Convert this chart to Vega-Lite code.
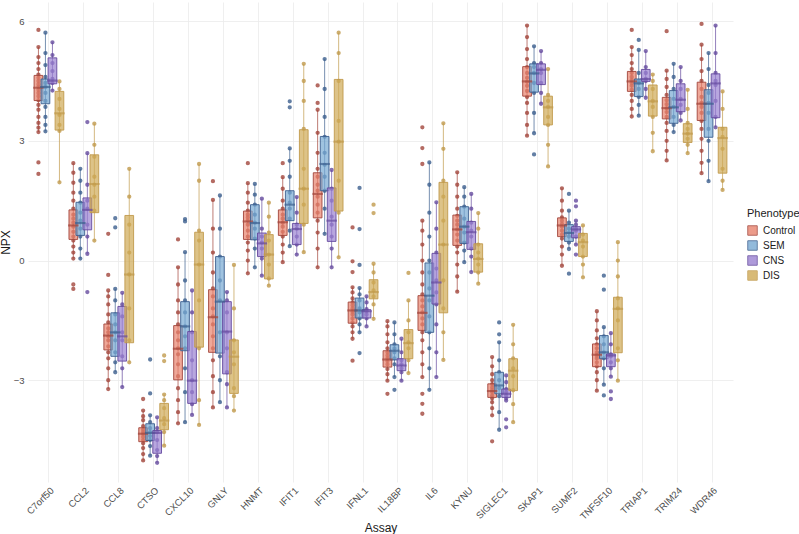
{
"$schema":"https://vega.github.io/schema/vega-lite/v6.json",
"width":705,"height":480,
"autosize":{"type":"none"},
"padding":{"left":28,"top":2,"right":66,"bottom":52},
"background":"white",
"config":{"font":"Liberation Sans","view":{"stroke":null},
"axis":{"grid":true,"gridColor":"#ebebeb","gridWidth":0.8,"domain":false,"ticks":false,"labelColor":"#4d4d4d","labelFontSize":9.5,"titleFontSize":12,"titleColor":"#1a1a1a","titleFontWeight":"normal"},
"legend":{"titleFontSize":11,"titleFontWeight":"normal","titleColor":"#1a1a1a","labelFontSize":10,"labelColor":"#1a1a1a","symbolType":"square","symbolSize":90,"symbolStrokeWidth":1,"rowPadding":0,"titlePadding":6,"labelOffset":5}},
"datasets":{
"box":[
{"a":"C7orf50","p":"Control","lo":3.22,"q1":4.01,"md":4.33,"q3":4.64,"hi":5.35},
{"a":"C7orf50","p":"SEM","lo":3.24,"q1":3.93,"md":4.35,"q3":4.55,"hi":5.71},
{"a":"C7orf50","p":"CNS","lo":4.26,"q1":4.43,"md":4.51,"q3":5.08,"hi":5.47},
{"a":"C7orf50","p":"DIS","lo":1.96,"q1":3.27,"md":3.69,"q3":4.24,"hi":4.49},
{"a":"CCL2","p":"Control","lo":0.05,"q1":0.53,"md":0.88,"q3":1.27,"hi":2.44},
{"a":"CCL2","p":"SEM","lo":0.05,"q1":0.63,"md":0.94,"q3":1.46,"hi":2.3},
{"a":"CCL2","p":"CNS","lo":0.17,"q1":0.77,"md":1.27,"q3":1.57,"hi":2.69},
{"a":"CCL2","p":"DIS","lo":0.5,"q1":1.2,"md":1.92,"q3":2.65,"hi":3.43},
{"a":"CCL8","p":"Control","lo":-3.22,"q1":-2.24,"md":-1.88,"q3":-1.59,"hi":-0.75},
{"a":"CCL8","p":"SEM","lo":-2.8,"q1":-2.4,"md":-1.8,"q3":-1.31,"hi":-0.71},
{"a":"CCL8","p":"CNS","lo":-3.17,"q1":-2.52,"md":-1.9,"q3":-1.15,"hi":-0.81},
{"a":"CCL8","p":"DIS","lo":-2.55,"q1":-2.06,"md":-0.35,"q3":1.13,"hi":2.3},
{"a":"CTSO","p":"Control","lo":-5.01,"q1":-4.54,"md":-4.34,"q3":-4.19,"hi":-3.76},
{"a":"CTSO","p":"SEM","lo":-4.89,"q1":-4.51,"md":-4.32,"q3":-4.09,"hi":-3.88},
{"a":"CTSO","p":"CNS","lo":-5.07,"q1":-4.83,"md":-4.32,"q3":-4.26,"hi":-3.93},
{"a":"CTSO","p":"DIS","lo":-4.64,"q1":-4.24,"md":-4.01,"q3":-3.58,"hi":-3.36},
{"a":"CXCL10","p":"Control","lo":-4.08,"q1":-2.99,"md":-2.21,"q3":-1.63,"hi":-0.17},
{"a":"CXCL10","p":"SEM","lo":-4.05,"q1":-2.26,"md":-1.65,"q3":-1.03,"hi":0.21},
{"a":"CXCL10","p":"CNS","lo":-3.87,"q1":-3.58,"md":-3.01,"q3":-1.78,"hi":-0.75},
{"a":"CXCL10","p":"DIS","lo":-4.12,"q1":-2.17,"md":-0.1,"q3":0.71,"hi":2.42},
{"a":"GNLY","p":"Control","lo":-3.68,"q1":-2.3,"md":-1.42,"q3":-0.73,"hi":1.52},
{"a":"GNLY","p":"SEM","lo":-3.55,"q1":-2.32,"md":-1.03,"q3":0.1,"hi":1.63},
{"a":"GNLY","p":"CNS","lo":-3.68,"q1":-2.84,"md":-1.78,"q3":-1.03,"hi":-0.79},
{"a":"GNLY","p":"DIS","lo":-3.76,"q1":-3.33,"md":-2.41,"q3":-1.99,"hi":-0.11},
{"a":"HNMT","p":"Control","lo":-0.32,"q1":0.53,"md":0.98,"q3":1.24,"hi":1.94},
{"a":"HNMT","p":"SEM","lo":-0.17,"q1":0.52,"md":0.94,"q3":1.4,"hi":1.92},
{"a":"HNMT","p":"CNS","lo":-0.38,"q1":0.1,"md":0.43,"q3":0.69,"hi":1.55},
{"a":"HNMT","p":"DIS","lo":-0.63,"q1":-0.46,"md":0.15,"q3":0.65,"hi":1.45},
{"a":"IFIT1","p":"Control","lo":-0.04,"q1":0.63,"md":0.96,"q3":1.27,"hi":2.09},
{"a":"IFIT1","p":"SEM","lo":0.36,"q1":1.0,"md":1.4,"q3":1.75,"hi":2.81},
{"a":"IFIT1","p":"CNS","lo":0.15,"q1":0.4,"md":0.79,"q3":0.93,"hi":1.59},
{"a":"IFIT1","p":"DIS","lo":0.21,"q1":0.93,"md":1.8,"q3":3.28,"hi":4.93},
{"a":"IFIT3","p":"Control","lo":-0.17,"q1":1.07,"md":1.67,"q3":2.2,"hi":3.78},
{"a":"IFIT3","p":"SEM","lo":0.67,"q1":1.75,"md":2.42,"q3":3.11,"hi":5.05},
{"a":"IFIT3","p":"CNS","lo":-0.17,"q1":0.48,"md":1.0,"q3":1.82,"hi":2.27},
{"a":"IFIT3","p":"DIS","lo":0.08,"q1":1.24,"md":2.98,"q3":4.54,"hi":5.71},
{"a":"IFNL1","p":"Control","lo":-1.96,"q1":-1.57,"md":-1.25,"q3":-1.04,"hi":-0.67},
{"a":"IFNL1","p":"SEM","lo":-1.8,"q1":-1.44,"md":-1.25,"q3":-0.94,"hi":-0.69},
{"a":"IFNL1","p":"CNS","lo":-1.65,"q1":-1.44,"md":-1.27,"q3":-1.23,"hi":-0.9},
{"a":"IFNL1","p":"DIS","lo":-1.46,"q1":-0.96,"md":-0.79,"q3":-0.48,"hi":-0.08},
{"a":"IL18BP","p":"Control","lo":-3.01,"q1":-2.67,"md":-2.48,"q3":-2.26,"hi":-1.52},
{"a":"IL18BP","p":"SEM","lo":-2.92,"q1":-2.49,"md":-2.26,"q3":-2.11,"hi":-1.55},
{"a":"IL18BP","p":"CNS","lo":-3.01,"q1":-2.76,"md":-2.63,"q3":-2.46,"hi":-1.96},
{"a":"IL18BP","p":"DIS","lo":-2.82,"q1":-2.46,"md":-2.07,"q3":-1.73,"hi":-1.0},
{"a":"IL6","p":"Control","lo":-2.92,"q1":-1.75,"md":-1.31,"q3":-0.88,"hi":1.0},
{"a":"IL6","p":"SEM","lo":-3.24,"q1":-1.8,"md":-0.88,"q3":-0.06,"hi":2.46},
{"a":"IL6","p":"CNS","lo":-2.92,"q1":-1.09,"md":-0.55,"q3":0.18,"hi":1.46},
{"a":"IL6","p":"DIS","lo":-2.49,"q1":-1.31,"md":0.4,"q3":1.96,"hi":3.44},
{"a":"KYNU","p":"Control","lo":-0.78,"q1":0.38,"md":0.78,"q3":1.14,"hi":2.21},
{"a":"KYNU","p":"SEM","lo":-0.04,"q1":0.43,"md":0.85,"q3":1.35,"hi":1.84},
{"a":"KYNU","p":"CNS","lo":-0.29,"q1":0.28,"md":0.71,"q3":0.98,"hi":1.67},
{"a":"KYNU","p":"DIS","lo":-0.58,"q1":-0.29,"md":0.04,"q3":0.42,"hi":1.19},
{"a":"SIGLEC1","p":"Control","lo":-3.88,"q1":-3.43,"md":-3.27,"q3":-3.09,"hi":-2.42},
{"a":"SIGLEC1","p":"SEM","lo":-4.24,"q1":-3.34,"md":-3.13,"q3":-2.8,"hi":-2.05},
{"a":"SIGLEC1","p":"CNS","lo":-3.51,"q1":-3.43,"md":-3.34,"q3":-3.22,"hi":-2.88},
{"a":"SIGLEC1","p":"DIS","lo":-4.05,"q1":-3.26,"md":-2.76,"q3":-2.46,"hi":-1.61},
{"a":"SKAP1","p":"Control","lo":3.13,"q1":4.12,"md":4.49,"q3":4.86,"hi":5.89},
{"a":"SKAP1","p":"SEM","lo":3.19,"q1":4.22,"md":4.69,"q3":4.93,"hi":5.37},
{"a":"SKAP1","p":"CNS","lo":3.93,"q1":4.41,"md":4.78,"q3":4.93,"hi":5.25},
{"a":"SKAP1","p":"DIS","lo":2.36,"q1":3.4,"md":3.84,"q3":4.12,"hi":4.8},
{"a":"SUMF2","p":"Control","lo":-0.13,"q1":0.6,"md":0.88,"q3":1.07,"hi":1.81},
{"a":"SUMF2","p":"SEM","lo":0.29,"q1":0.48,"md":0.69,"q3":0.9,"hi":1.25},
{"a":"SUMF2","p":"CNS","lo":0.4,"q1":0.57,"md":0.78,"q3":0.85,"hi":1.0},
{"a":"SUMF2","p":"DIS","lo":-0.42,"q1":0.1,"md":0.46,"q3":0.68,"hi":0.88},
{"a":"TNFSF10","p":"Control","lo":-3.26,"q1":-2.66,"md":-2.36,"q3":-2.09,"hi":-1.27},
{"a":"TNFSF10","p":"SEM","lo":-3.11,"q1":-2.46,"md":-2.3,"q3":-1.88,"hi":-1.67},
{"a":"TNFSF10","p":"CNS","lo":-2.91,"q1":-2.66,"md":-2.38,"q3":-2.34,"hi":-1.82},
{"a":"TNFSF10","p":"DIS","lo":-3.01,"q1":-2.31,"md":-1.21,"q3":-0.92,"hi":0.46},
{"a":"TRIAP1","p":"Control","lo":3.61,"q1":4.24,"md":4.49,"q3":4.74,"hi":5.35},
{"a":"TRIAP1","p":"SEM","lo":3.63,"q1":4.11,"md":4.44,"q3":4.55,"hi":5.28},
{"a":"TRIAP1","p":"CNS","lo":4.08,"q1":4.49,"md":4.55,"q3":4.79,"hi":5.25},
{"a":"TRIAP1","p":"DIS","lo":2.74,"q1":3.62,"md":3.99,"q3":4.4,"hi":4.66},
{"a":"TRIM24","p":"Control","lo":2.51,"q1":3.55,"md":3.82,"q3":4.09,"hi":4.76},
{"a":"TRIM24","p":"SEM","lo":3.22,"q1":3.44,"md":3.84,"q3":4.26,"hi":4.93},
{"a":"TRIM24","p":"CNS","lo":3.51,"q1":3.73,"md":4.03,"q3":4.43,"hi":4.85},
{"a":"TRIM24","p":"DIS","lo":2.69,"q1":2.96,"md":3.18,"q3":3.43,"hi":4.28},
{"a":"WDR46","p":"Control","lo":2.19,"q1":3.51,"md":3.93,"q3":4.47,"hi":5.41},
{"a":"WDR46","p":"SEM","lo":1.99,"q1":3.09,"md":3.93,"q3":4.28,"hi":5.2},
{"a":"WDR46","p":"CNS","lo":3.34,"q1":3.58,"md":4.44,"q3":4.68,"hi":5.89},
{"a":"WDR46","p":"DIS","lo":1.77,"q1":2.19,"md":3.07,"q3":3.34,"hi":4.24}
],
"pts":[
{"a":"C7orf50","p":"Control","v":3.22},{"a":"C7orf50","p":"Control","v":3.33},{"a":"C7orf50","p":"Control","v":3.45},{"a":"C7orf50","p":"Control","v":3.6},{"a":"C7orf50","p":"Control","v":3.78},{"a":"C7orf50","p":"Control","v":3.9},{"a":"C7orf50","p":"Control","v":4.02},{"a":"C7orf50","p":"Control","v":4.12},{"a":"C7orf50","p":"Control","v":4.2},{"a":"C7orf50","p":"Control","v":4.28},{"a":"C7orf50","p":"Control","v":4.35},{"a":"C7orf50","p":"Control","v":4.42},{"a":"C7orf50","p":"Control","v":4.5},{"a":"C7orf50","p":"Control","v":4.58},{"a":"C7orf50","p":"Control","v":4.66},{"a":"C7orf50","p":"Control","v":4.8},{"a":"C7orf50","p":"Control","v":4.95},{"a":"C7orf50","p":"Control","v":5.1},{"a":"C7orf50","p":"Control","v":5.35},{"a":"C7orf50","p":"Control","v":2.46},{"a":"C7orf50","p":"Control","v":2.17},{"a":"C7orf50","p":"Control","v":5.78},
{"a":"C7orf50","p":"SEM","v":3.24},{"a":"C7orf50","p":"SEM","v":3.4},{"a":"C7orf50","p":"SEM","v":3.6},{"a":"C7orf50","p":"SEM","v":3.85},{"a":"C7orf50","p":"SEM","v":4.0},{"a":"C7orf50","p":"SEM","v":4.2},{"a":"C7orf50","p":"SEM","v":4.35},{"a":"C7orf50","p":"SEM","v":4.45},{"a":"C7orf50","p":"SEM","v":4.6},{"a":"C7orf50","p":"SEM","v":4.9},{"a":"C7orf50","p":"SEM","v":5.2},{"a":"C7orf50","p":"SEM","v":5.71},
{"a":"C7orf50","p":"CNS","v":4.26},{"a":"C7orf50","p":"CNS","v":4.45},{"a":"C7orf50","p":"CNS","v":4.55},{"a":"C7orf50","p":"CNS","v":4.75},{"a":"C7orf50","p":"CNS","v":4.95},{"a":"C7orf50","p":"CNS","v":5.15},{"a":"C7orf50","p":"CNS","v":5.47},
{"a":"C7orf50","p":"DIS","v":1.96},{"a":"C7orf50","p":"DIS","v":3.25},{"a":"C7orf50","p":"DIS","v":3.4},{"a":"C7orf50","p":"DIS","v":3.65},{"a":"C7orf50","p":"DIS","v":3.8},{"a":"C7orf50","p":"DIS","v":4.05},{"a":"C7orf50","p":"DIS","v":4.3},{"a":"C7orf50","p":"DIS","v":4.49},
{"a":"CCL2","p":"Control","v":0.05},{"a":"CCL2","p":"Control","v":0.2},{"a":"CCL2","p":"Control","v":0.35},{"a":"CCL2","p":"Control","v":0.5},{"a":"CCL2","p":"Control","v":0.6},{"a":"CCL2","p":"Control","v":0.72},{"a":"CCL2","p":"Control","v":0.85},{"a":"CCL2","p":"Control","v":0.95},{"a":"CCL2","p":"Control","v":1.05},{"a":"CCL2","p":"Control","v":1.15},{"a":"CCL2","p":"Control","v":1.3},{"a":"CCL2","p":"Control","v":1.5},{"a":"CCL2","p":"Control","v":1.7},{"a":"CCL2","p":"Control","v":1.95},{"a":"CCL2","p":"Control","v":2.2},{"a":"CCL2","p":"Control","v":2.44},{"a":"CCL2","p":"Control","v":-0.6},{"a":"CCL2","p":"Control","v":-0.71},
{"a":"CCL2","p":"SEM","v":0.05},{"a":"CCL2","p":"SEM","v":0.3},{"a":"CCL2","p":"SEM","v":0.6},{"a":"CCL2","p":"SEM","v":0.8},{"a":"CCL2","p":"SEM","v":1.0},{"a":"CCL2","p":"SEM","v":1.2},{"a":"CCL2","p":"SEM","v":1.45},{"a":"CCL2","p":"SEM","v":1.7},{"a":"CCL2","p":"SEM","v":2.0},{"a":"CCL2","p":"SEM","v":2.3},
{"a":"CCL2","p":"CNS","v":0.17},{"a":"CCL2","p":"CNS","v":0.6},{"a":"CCL2","p":"CNS","v":0.9},{"a":"CCL2","p":"CNS","v":1.3},{"a":"CCL2","p":"CNS","v":1.5},{"a":"CCL2","p":"CNS","v":1.9},{"a":"CCL2","p":"CNS","v":2.69},{"a":"CCL2","p":"CNS","v":3.47},{"a":"CCL2","p":"CNS","v":-0.79},
{"a":"CCL2","p":"DIS","v":0.5},{"a":"CCL2","p":"DIS","v":1.25},{"a":"CCL2","p":"DIS","v":1.6},{"a":"CCL2","p":"DIS","v":1.9},{"a":"CCL2","p":"DIS","v":2.1},{"a":"CCL2","p":"DIS","v":2.6},{"a":"CCL2","p":"DIS","v":2.9},{"a":"CCL2","p":"DIS","v":3.43},
{"a":"CCL8","p":"Control","v":-3.22},{"a":"CCL8","p":"Control","v":-3.0},{"a":"CCL8","p":"Control","v":-2.7},{"a":"CCL8","p":"Control","v":-2.45},{"a":"CCL8","p":"Control","v":-2.3},{"a":"CCL8","p":"Control","v":-2.15},{"a":"CCL8","p":"Control","v":-2.0},{"a":"CCL8","p":"Control","v":-1.9},{"a":"CCL8","p":"Control","v":-1.8},{"a":"CCL8","p":"Control","v":-1.7},{"a":"CCL8","p":"Control","v":-1.55},{"a":"CCL8","p":"Control","v":-1.35},{"a":"CCL8","p":"Control","v":-1.1},{"a":"CCL8","p":"Control","v":-0.9},{"a":"CCL8","p":"Control","v":-0.75},{"a":"CCL8","p":"Control","v":-0.36},{"a":"CCL8","p":"Control","v":0.67},
{"a":"CCL8","p":"SEM","v":-2.8},{"a":"CCL8","p":"SEM","v":-2.55},{"a":"CCL8","p":"SEM","v":-2.3},{"a":"CCL8","p":"SEM","v":-2.0},{"a":"CCL8","p":"SEM","v":-1.8},{"a":"CCL8","p":"SEM","v":-1.6},{"a":"CCL8","p":"SEM","v":-1.35},{"a":"CCL8","p":"SEM","v":-1.0},{"a":"CCL8","p":"SEM","v":-0.71},{"a":"CCL8","p":"SEM","v":1.06},{"a":"CCL8","p":"SEM","v":0.83},
{"a":"CCL8","p":"CNS","v":-3.17},{"a":"CCL8","p":"CNS","v":-2.7},{"a":"CCL8","p":"CNS","v":-2.4},{"a":"CCL8","p":"CNS","v":-2.0},{"a":"CCL8","p":"CNS","v":-1.8},{"a":"CCL8","p":"CNS","v":-1.4},{"a":"CCL8","p":"CNS","v":-1.1},{"a":"CCL8","p":"CNS","v":-0.81},
{"a":"CCL8","p":"DIS","v":-2.55},{"a":"CCL8","p":"DIS","v":-2.0},{"a":"CCL8","p":"DIS","v":-1.2},{"a":"CCL8","p":"DIS","v":-0.35},{"a":"CCL8","p":"DIS","v":0.2},{"a":"CCL8","p":"DIS","v":0.9},{"a":"CCL8","p":"DIS","v":1.6},{"a":"CCL8","p":"DIS","v":2.3},
{"a":"CTSO","p":"Control","v":-5.01},{"a":"CTSO","p":"Control","v":-4.85},{"a":"CTSO","p":"Control","v":-4.7},{"a":"CTSO","p":"Control","v":-4.58},{"a":"CTSO","p":"Control","v":-4.5},{"a":"CTSO","p":"Control","v":-4.42},{"a":"CTSO","p":"Control","v":-4.35},{"a":"CTSO","p":"Control","v":-4.3},{"a":"CTSO","p":"Control","v":-4.24},{"a":"CTSO","p":"Control","v":-4.15},{"a":"CTSO","p":"Control","v":-4.0},{"a":"CTSO","p":"Control","v":-3.9},{"a":"CTSO","p":"Control","v":-3.76},{"a":"CTSO","p":"Control","v":-3.47},
{"a":"CTSO","p":"SEM","v":-4.89},{"a":"CTSO","p":"SEM","v":-4.65},{"a":"CTSO","p":"SEM","v":-4.5},{"a":"CTSO","p":"SEM","v":-4.4},{"a":"CTSO","p":"SEM","v":-4.3},{"a":"CTSO","p":"SEM","v":-4.2},{"a":"CTSO","p":"SEM","v":-4.05},{"a":"CTSO","p":"SEM","v":-3.88},{"a":"CTSO","p":"SEM","v":-3.33},{"a":"CTSO","p":"SEM","v":-2.48},
{"a":"CTSO","p":"CNS","v":-5.07},{"a":"CTSO","p":"CNS","v":-4.9},{"a":"CTSO","p":"CNS","v":-4.75},{"a":"CTSO","p":"CNS","v":-4.5},{"a":"CTSO","p":"CNS","v":-4.3},{"a":"CTSO","p":"CNS","v":-4.2},{"a":"CTSO","p":"CNS","v":-3.93},
{"a":"CTSO","p":"DIS","v":-4.64},{"a":"CTSO","p":"DIS","v":-4.3},{"a":"CTSO","p":"DIS","v":-4.1},{"a":"CTSO","p":"DIS","v":-3.95},{"a":"CTSO","p":"DIS","v":-3.7},{"a":"CTSO","p":"DIS","v":-3.5},{"a":"CTSO","p":"DIS","v":-3.36},{"a":"CTSO","p":"DIS","v":-2.38},{"a":"CTSO","p":"DIS","v":-2.52},
{"a":"CXCL10","p":"Control","v":-4.08},{"a":"CXCL10","p":"Control","v":-3.8},{"a":"CXCL10","p":"Control","v":-3.5},{"a":"CXCL10","p":"Control","v":-3.2},{"a":"CXCL10","p":"Control","v":-2.9},{"a":"CXCL10","p":"Control","v":-2.6},{"a":"CXCL10","p":"Control","v":-2.35},{"a":"CXCL10","p":"Control","v":-2.2},{"a":"CXCL10","p":"Control","v":-2.0},{"a":"CXCL10","p":"Control","v":-1.8},{"a":"CXCL10","p":"Control","v":-1.6},{"a":"CXCL10","p":"Control","v":-1.3},{"a":"CXCL10","p":"Control","v":-1.0},{"a":"CXCL10","p":"Control","v":-0.6},{"a":"CXCL10","p":"Control","v":-0.17},{"a":"CXCL10","p":"Control","v":0.53},
{"a":"CXCL10","p":"SEM","v":-4.05},{"a":"CXCL10","p":"SEM","v":-3.3},{"a":"CXCL10","p":"SEM","v":-2.7},{"a":"CXCL10","p":"SEM","v":-2.2},{"a":"CXCL10","p":"SEM","v":-1.9},{"a":"CXCL10","p":"SEM","v":-1.65},{"a":"CXCL10","p":"SEM","v":-1.3},{"a":"CXCL10","p":"SEM","v":-1.0},{"a":"CXCL10","p":"SEM","v":-0.5},{"a":"CXCL10","p":"SEM","v":0.21},{"a":"CXCL10","p":"SEM","v":1.04},{"a":"CXCL10","p":"SEM","v":0.98},
{"a":"CXCL10","p":"CNS","v":-3.87},{"a":"CXCL10","p":"CNS","v":-3.6},{"a":"CXCL10","p":"CNS","v":-3.3},{"a":"CXCL10","p":"CNS","v":-3.0},{"a":"CXCL10","p":"CNS","v":-2.5},{"a":"CXCL10","p":"CNS","v":-1.8},{"a":"CXCL10","p":"CNS","v":-1.3},{"a":"CXCL10","p":"CNS","v":-0.75},
{"a":"CXCL10","p":"DIS","v":-4.12},{"a":"CXCL10","p":"DIS","v":-3.5},{"a":"CXCL10","p":"DIS","v":-2.2},{"a":"CXCL10","p":"DIS","v":-1.0},{"a":"CXCL10","p":"DIS","v":-0.1},{"a":"CXCL10","p":"DIS","v":0.5},{"a":"CXCL10","p":"DIS","v":0.75},{"a":"CXCL10","p":"DIS","v":2.0},{"a":"CXCL10","p":"DIS","v":2.42},
{"a":"GNLY","p":"Control","v":-3.68},{"a":"GNLY","p":"Control","v":-3.3},{"a":"GNLY","p":"Control","v":-2.9},{"a":"GNLY","p":"Control","v":-2.5},{"a":"GNLY","p":"Control","v":-2.2},{"a":"GNLY","p":"Control","v":-1.9},{"a":"GNLY","p":"Control","v":-1.6},{"a":"GNLY","p":"Control","v":-1.4},{"a":"GNLY","p":"Control","v":-1.2},{"a":"GNLY","p":"Control","v":-0.9},{"a":"GNLY","p":"Control","v":-0.7},{"a":"GNLY","p":"Control","v":-0.3},{"a":"GNLY","p":"Control","v":0.2},{"a":"GNLY","p":"Control","v":0.8},{"a":"GNLY","p":"Control","v":1.52},{"a":"GNLY","p":"Control","v":1.99},
{"a":"GNLY","p":"SEM","v":-3.55},{"a":"GNLY","p":"SEM","v":-3.0},{"a":"GNLY","p":"SEM","v":-2.4},{"a":"GNLY","p":"SEM","v":-1.8},{"a":"GNLY","p":"SEM","v":-1.0},{"a":"GNLY","p":"SEM","v":-0.5},{"a":"GNLY","p":"SEM","v":0.1},{"a":"GNLY","p":"SEM","v":0.8},{"a":"GNLY","p":"SEM","v":1.63},
{"a":"GNLY","p":"CNS","v":-3.68},{"a":"GNLY","p":"CNS","v":-3.1},{"a":"GNLY","p":"CNS","v":-2.8},{"a":"GNLY","p":"CNS","v":-2.2},{"a":"GNLY","p":"CNS","v":-1.8},{"a":"GNLY","p":"CNS","v":-1.3},{"a":"GNLY","p":"CNS","v":-1.0},{"a":"GNLY","p":"CNS","v":-0.79},
{"a":"GNLY","p":"DIS","v":-3.76},{"a":"GNLY","p":"DIS","v":-3.4},{"a":"GNLY","p":"DIS","v":-3.2},{"a":"GNLY","p":"DIS","v":-2.6},{"a":"GNLY","p":"DIS","v":-2.3},{"a":"GNLY","p":"DIS","v":-2.0},{"a":"GNLY","p":"DIS","v":-1.2},{"a":"GNLY","p":"DIS","v":-0.11},
{"a":"HNMT","p":"Control","v":-0.32},{"a":"HNMT","p":"Control","v":0.0},{"a":"HNMT","p":"Control","v":0.25},{"a":"HNMT","p":"Control","v":0.45},{"a":"HNMT","p":"Control","v":0.6},{"a":"HNMT","p":"Control","v":0.75},{"a":"HNMT","p":"Control","v":0.9},{"a":"HNMT","p":"Control","v":1.0},{"a":"HNMT","p":"Control","v":1.08},{"a":"HNMT","p":"Control","v":1.15},{"a":"HNMT","p":"Control","v":1.25},{"a":"HNMT","p":"Control","v":1.45},{"a":"HNMT","p":"Control","v":1.7},{"a":"HNMT","p":"Control","v":1.94},{"a":"HNMT","p":"Control","v":2.44},
{"a":"HNMT","p":"SEM","v":-0.17},{"a":"HNMT","p":"SEM","v":0.3},{"a":"HNMT","p":"SEM","v":0.55},{"a":"HNMT","p":"SEM","v":0.8},{"a":"HNMT","p":"SEM","v":0.95},{"a":"HNMT","p":"SEM","v":1.15},{"a":"HNMT","p":"SEM","v":1.4},{"a":"HNMT","p":"SEM","v":1.65},{"a":"HNMT","p":"SEM","v":1.92},
{"a":"HNMT","p":"CNS","v":-0.38},{"a":"HNMT","p":"CNS","v":0.05},{"a":"HNMT","p":"CNS","v":0.3},{"a":"HNMT","p":"CNS","v":0.45},{"a":"HNMT","p":"CNS","v":0.6},{"a":"HNMT","p":"CNS","v":0.8},{"a":"HNMT","p":"CNS","v":1.55},
{"a":"HNMT","p":"DIS","v":-0.63},{"a":"HNMT","p":"DIS","v":-0.45},{"a":"HNMT","p":"DIS","v":-0.1},{"a":"HNMT","p":"DIS","v":0.15},{"a":"HNMT","p":"DIS","v":0.5},{"a":"HNMT","p":"DIS","v":0.7},{"a":"HNMT","p":"DIS","v":1.1},{"a":"HNMT","p":"DIS","v":1.45},
{"a":"IFIT1","p":"Control","v":-0.04},{"a":"IFIT1","p":"Control","v":0.2},{"a":"IFIT1","p":"Control","v":0.4},{"a":"IFIT1","p":"Control","v":0.6},{"a":"IFIT1","p":"Control","v":0.72},{"a":"IFIT1","p":"Control","v":0.85},{"a":"IFIT1","p":"Control","v":0.95},{"a":"IFIT1","p":"Control","v":1.05},{"a":"IFIT1","p":"Control","v":1.15},{"a":"IFIT1","p":"Control","v":1.3},{"a":"IFIT1","p":"Control","v":1.5},{"a":"IFIT1","p":"Control","v":1.8},{"a":"IFIT1","p":"Control","v":2.09},{"a":"IFIT1","p":"Control","v":2.44},
{"a":"IFIT1","p":"SEM","v":0.36},{"a":"IFIT1","p":"SEM","v":0.75},{"a":"IFIT1","p":"SEM","v":1.05},{"a":"IFIT1","p":"SEM","v":1.3},{"a":"IFIT1","p":"SEM","v":1.45},{"a":"IFIT1","p":"SEM","v":1.7},{"a":"IFIT1","p":"SEM","v":2.1},{"a":"IFIT1","p":"SEM","v":2.5},{"a":"IFIT1","p":"SEM","v":2.81},{"a":"IFIT1","p":"SEM","v":3.99},{"a":"IFIT1","p":"SEM","v":3.84},
{"a":"IFIT1","p":"CNS","v":0.15},{"a":"IFIT1","p":"CNS","v":0.4},{"a":"IFIT1","p":"CNS","v":0.6},{"a":"IFIT1","p":"CNS","v":0.8},{"a":"IFIT1","p":"CNS","v":0.9},{"a":"IFIT1","p":"CNS","v":1.2},{"a":"IFIT1","p":"CNS","v":1.59},
{"a":"IFIT1","p":"DIS","v":0.21},{"a":"IFIT1","p":"DIS","v":0.9},{"a":"IFIT1","p":"DIS","v":1.4},{"a":"IFIT1","p":"DIS","v":1.8},{"a":"IFIT1","p":"DIS","v":2.3},{"a":"IFIT1","p":"DIS","v":3.3},{"a":"IFIT1","p":"DIS","v":4.0},{"a":"IFIT1","p":"DIS","v":4.5},{"a":"IFIT1","p":"DIS","v":4.93},
{"a":"IFIT3","p":"Control","v":-0.17},{"a":"IFIT3","p":"Control","v":0.3},{"a":"IFIT3","p":"Control","v":0.7},{"a":"IFIT3","p":"Control","v":1.0},{"a":"IFIT3","p":"Control","v":1.2},{"a":"IFIT3","p":"Control","v":1.4},{"a":"IFIT3","p":"Control","v":1.6},{"a":"IFIT3","p":"Control","v":1.75},{"a":"IFIT3","p":"Control","v":1.9},{"a":"IFIT3","p":"Control","v":2.1},{"a":"IFIT3","p":"Control","v":2.3},{"a":"IFIT3","p":"Control","v":2.7},{"a":"IFIT3","p":"Control","v":3.2},{"a":"IFIT3","p":"Control","v":3.78},{"a":"IFIT3","p":"Control","v":3.95},{"a":"IFIT3","p":"Control","v":4.39},
{"a":"IFIT3","p":"SEM","v":0.67},{"a":"IFIT3","p":"SEM","v":1.3},{"a":"IFIT3","p":"SEM","v":1.75},{"a":"IFIT3","p":"SEM","v":2.1},{"a":"IFIT3","p":"SEM","v":2.4},{"a":"IFIT3","p":"SEM","v":2.7},{"a":"IFIT3","p":"SEM","v":3.1},{"a":"IFIT3","p":"SEM","v":3.6},{"a":"IFIT3","p":"SEM","v":4.3},{"a":"IFIT3","p":"SEM","v":5.05},
{"a":"IFIT3","p":"CNS","v":-0.17},{"a":"IFIT3","p":"CNS","v":0.3},{"a":"IFIT3","p":"CNS","v":0.6},{"a":"IFIT3","p":"CNS","v":0.9},{"a":"IFIT3","p":"CNS","v":1.1},{"a":"IFIT3","p":"CNS","v":1.5},{"a":"IFIT3","p":"CNS","v":1.8},{"a":"IFIT3","p":"CNS","v":2.27},
{"a":"IFIT3","p":"DIS","v":0.08},{"a":"IFIT3","p":"DIS","v":1.2},{"a":"IFIT3","p":"DIS","v":2.0},{"a":"IFIT3","p":"DIS","v":2.98},{"a":"IFIT3","p":"DIS","v":3.5},{"a":"IFIT3","p":"DIS","v":4.5},{"a":"IFIT3","p":"DIS","v":5.2},{"a":"IFIT3","p":"DIS","v":5.71},
{"a":"IFNL1","p":"Control","v":-1.96},{"a":"IFNL1","p":"Control","v":-1.8},{"a":"IFNL1","p":"Control","v":-1.65},{"a":"IFNL1","p":"Control","v":-1.55},{"a":"IFNL1","p":"Control","v":-1.45},{"a":"IFNL1","p":"Control","v":-1.35},{"a":"IFNL1","p":"Control","v":-1.28},{"a":"IFNL1","p":"Control","v":-1.2},{"a":"IFNL1","p":"Control","v":-1.12},{"a":"IFNL1","p":"Control","v":-1.05},{"a":"IFNL1","p":"Control","v":-0.95},{"a":"IFNL1","p":"Control","v":-0.8},{"a":"IFNL1","p":"Control","v":-0.67},{"a":"IFNL1","p":"Control","v":-0.02},{"a":"IFNL1","p":"Control","v":-0.29},{"a":"IFNL1","p":"Control","v":-2.51},{"a":"IFNL1","p":"Control","v":0.83},
{"a":"IFNL1","p":"SEM","v":-1.8},{"a":"IFNL1","p":"SEM","v":-1.6},{"a":"IFNL1","p":"SEM","v":-1.45},{"a":"IFNL1","p":"SEM","v":-1.3},{"a":"IFNL1","p":"SEM","v":-1.2},{"a":"IFNL1","p":"SEM","v":-1.0},{"a":"IFNL1","p":"SEM","v":-0.85},{"a":"IFNL1","p":"SEM","v":-0.69},{"a":"IFNL1","p":"SEM","v":-0.11},{"a":"IFNL1","p":"SEM","v":-2.32},{"a":"IFNL1","p":"SEM","v":1.82},{"a":"IFNL1","p":"SEM","v":0.79},
{"a":"IFNL1","p":"CNS","v":-1.65},{"a":"IFNL1","p":"CNS","v":-1.45},{"a":"IFNL1","p":"CNS","v":-1.35},{"a":"IFNL1","p":"CNS","v":-1.27},{"a":"IFNL1","p":"CNS","v":-1.22},{"a":"IFNL1","p":"CNS","v":-1.05},{"a":"IFNL1","p":"CNS","v":-0.9},
{"a":"IFNL1","p":"DIS","v":-1.46},{"a":"IFNL1","p":"DIS","v":-1.1},{"a":"IFNL1","p":"DIS","v":-0.9},{"a":"IFNL1","p":"DIS","v":-0.75},{"a":"IFNL1","p":"DIS","v":-0.55},{"a":"IFNL1","p":"DIS","v":-0.3},{"a":"IFNL1","p":"DIS","v":-0.08},{"a":"IFNL1","p":"DIS","v":1.4},{"a":"IFNL1","p":"DIS","v":1.19},
{"a":"IL18BP","p":"Control","v":-3.01},{"a":"IL18BP","p":"Control","v":-2.85},{"a":"IL18BP","p":"Control","v":-2.72},{"a":"IL18BP","p":"Control","v":-2.6},{"a":"IL18BP","p":"Control","v":-2.52},{"a":"IL18BP","p":"Control","v":-2.45},{"a":"IL18BP","p":"Control","v":-2.38},{"a":"IL18BP","p":"Control","v":-2.3},{"a":"IL18BP","p":"Control","v":-2.2},{"a":"IL18BP","p":"Control","v":-2.05},{"a":"IL18BP","p":"Control","v":-1.85},{"a":"IL18BP","p":"Control","v":-1.65},{"a":"IL18BP","p":"Control","v":-1.52},{"a":"IL18BP","p":"Control","v":-3.34},
{"a":"IL18BP","p":"SEM","v":-2.92},{"a":"IL18BP","p":"SEM","v":-2.6},{"a":"IL18BP","p":"SEM","v":-2.45},{"a":"IL18BP","p":"SEM","v":-2.3},{"a":"IL18BP","p":"SEM","v":-2.2},{"a":"IL18BP","p":"SEM","v":-2.1},{"a":"IL18BP","p":"SEM","v":-1.85},{"a":"IL18BP","p":"SEM","v":-1.55},{"a":"IL18BP","p":"SEM","v":-3.24},
{"a":"IL18BP","p":"CNS","v":-3.01},{"a":"IL18BP","p":"CNS","v":-2.8},{"a":"IL18BP","p":"CNS","v":-2.7},{"a":"IL18BP","p":"CNS","v":-2.6},{"a":"IL18BP","p":"CNS","v":-2.5},{"a":"IL18BP","p":"CNS","v":-2.3},{"a":"IL18BP","p":"CNS","v":-1.96},
{"a":"IL18BP","p":"DIS","v":-2.82},{"a":"IL18BP","p":"DIS","v":-2.5},{"a":"IL18BP","p":"DIS","v":-2.2},{"a":"IL18BP","p":"DIS","v":-2.05},{"a":"IL18BP","p":"DIS","v":-1.8},{"a":"IL18BP","p":"DIS","v":-1.5},{"a":"IL18BP","p":"DIS","v":-1.0},{"a":"IL18BP","p":"DIS","v":-0.31},
{"a":"IL6","p":"Control","v":-2.92},{"a":"IL6","p":"Control","v":-2.6},{"a":"IL6","p":"Control","v":-2.3},{"a":"IL6","p":"Control","v":-2.0},{"a":"IL6","p":"Control","v":-1.8},{"a":"IL6","p":"Control","v":-1.6},{"a":"IL6","p":"Control","v":-1.45},{"a":"IL6","p":"Control","v":-1.3},{"a":"IL6","p":"Control","v":-1.15},{"a":"IL6","p":"Control","v":-1.0},{"a":"IL6","p":"Control","v":-0.85},{"a":"IL6","p":"Control","v":-0.6},{"a":"IL6","p":"Control","v":-0.3},{"a":"IL6","p":"Control","v":0.0},{"a":"IL6","p":"Control","v":0.4},{"a":"IL6","p":"Control","v":0.75},{"a":"IL6","p":"Control","v":1.0},{"a":"IL6","p":"Control","v":2.42},{"a":"IL6","p":"Control","v":2.82},{"a":"IL6","p":"Control","v":3.34},{"a":"IL6","p":"Control","v":-3.34},{"a":"IL6","p":"Control","v":-3.59},{"a":"IL6","p":"Control","v":-3.84},
{"a":"IL6","p":"SEM","v":-3.24},{"a":"IL6","p":"SEM","v":-2.7},{"a":"IL6","p":"SEM","v":-2.2},{"a":"IL6","p":"SEM","v":-1.8},{"a":"IL6","p":"SEM","v":-1.4},{"a":"IL6","p":"SEM","v":-1.0},{"a":"IL6","p":"SEM","v":-0.7},{"a":"IL6","p":"SEM","v":-0.3},{"a":"IL6","p":"SEM","v":0.0},{"a":"IL6","p":"SEM","v":0.6},{"a":"IL6","p":"SEM","v":1.2},{"a":"IL6","p":"SEM","v":1.9},{"a":"IL6","p":"SEM","v":2.46},
{"a":"IL6","p":"CNS","v":-2.92},{"a":"IL6","p":"CNS","v":-2.3},{"a":"IL6","p":"CNS","v":-1.6},{"a":"IL6","p":"CNS","v":-1.1},{"a":"IL6","p":"CNS","v":-0.8},{"a":"IL6","p":"CNS","v":-0.5},{"a":"IL6","p":"CNS","v":-0.2},{"a":"IL6","p":"CNS","v":0.2},{"a":"IL6","p":"CNS","v":0.8},{"a":"IL6","p":"CNS","v":1.46},
{"a":"IL6","p":"DIS","v":-2.49},{"a":"IL6","p":"DIS","v":-1.8},{"a":"IL6","p":"DIS","v":-1.2},{"a":"IL6","p":"DIS","v":-0.5},{"a":"IL6","p":"DIS","v":0.4},{"a":"IL6","p":"DIS","v":1.0},{"a":"IL6","p":"DIS","v":1.6},{"a":"IL6","p":"DIS","v":2.0},{"a":"IL6","p":"DIS","v":2.8},{"a":"IL6","p":"DIS","v":3.44},
{"a":"KYNU","p":"Control","v":-0.78},{"a":"KYNU","p":"Control","v":-0.4},{"a":"KYNU","p":"Control","v":-0.1},{"a":"KYNU","p":"Control","v":0.2},{"a":"KYNU","p":"Control","v":0.35},{"a":"KYNU","p":"Control","v":0.5},{"a":"KYNU","p":"Control","v":0.65},{"a":"KYNU","p":"Control","v":0.78},{"a":"KYNU","p":"Control","v":0.9},{"a":"KYNU","p":"Control","v":1.0},{"a":"KYNU","p":"Control","v":1.12},{"a":"KYNU","p":"Control","v":1.3},{"a":"KYNU","p":"Control","v":1.6},{"a":"KYNU","p":"Control","v":1.9},{"a":"KYNU","p":"Control","v":2.21},
{"a":"KYNU","p":"SEM","v":-0.04},{"a":"KYNU","p":"SEM","v":0.25},{"a":"KYNU","p":"SEM","v":0.45},{"a":"KYNU","p":"SEM","v":0.7},{"a":"KYNU","p":"SEM","v":0.85},{"a":"KYNU","p":"SEM","v":1.05},{"a":"KYNU","p":"SEM","v":1.35},{"a":"KYNU","p":"SEM","v":1.6},{"a":"KYNU","p":"SEM","v":1.84},
{"a":"KYNU","p":"CNS","v":-0.29},{"a":"KYNU","p":"CNS","v":0.1},{"a":"KYNU","p":"CNS","v":0.3},{"a":"KYNU","p":"CNS","v":0.6},{"a":"KYNU","p":"CNS","v":0.75},{"a":"KYNU","p":"CNS","v":0.95},{"a":"KYNU","p":"CNS","v":1.3},{"a":"KYNU","p":"CNS","v":1.67},
{"a":"KYNU","p":"DIS","v":-0.58},{"a":"KYNU","p":"DIS","v":-0.3},{"a":"KYNU","p":"DIS","v":-0.1},{"a":"KYNU","p":"DIS","v":0.05},{"a":"KYNU","p":"DIS","v":0.2},{"a":"KYNU","p":"DIS","v":0.4},{"a":"KYNU","p":"DIS","v":0.8},{"a":"KYNU","p":"DIS","v":1.19},
{"a":"SIGLEC1","p":"Control","v":-3.88},{"a":"SIGLEC1","p":"Control","v":-3.7},{"a":"SIGLEC1","p":"Control","v":-3.55},{"a":"SIGLEC1","p":"Control","v":-3.45},{"a":"SIGLEC1","p":"Control","v":-3.38},{"a":"SIGLEC1","p":"Control","v":-3.3},{"a":"SIGLEC1","p":"Control","v":-3.25},{"a":"SIGLEC1","p":"Control","v":-3.18},{"a":"SIGLEC1","p":"Control","v":-3.1},{"a":"SIGLEC1","p":"Control","v":-3.0},{"a":"SIGLEC1","p":"Control","v":-2.85},{"a":"SIGLEC1","p":"Control","v":-2.65},{"a":"SIGLEC1","p":"Control","v":-2.42},{"a":"SIGLEC1","p":"Control","v":-4.53},
{"a":"SIGLEC1","p":"SEM","v":-4.24},{"a":"SIGLEC1","p":"SEM","v":-3.8},{"a":"SIGLEC1","p":"SEM","v":-3.4},{"a":"SIGLEC1","p":"SEM","v":-3.2},{"a":"SIGLEC1","p":"SEM","v":-3.0},{"a":"SIGLEC1","p":"SEM","v":-2.8},{"a":"SIGLEC1","p":"SEM","v":-2.5},{"a":"SIGLEC1","p":"SEM","v":-2.05},{"a":"SIGLEC1","p":"SEM","v":-1.55},{"a":"SIGLEC1","p":"SEM","v":-1.85},
{"a":"SIGLEC1","p":"CNS","v":-3.51},{"a":"SIGLEC1","p":"CNS","v":-3.45},{"a":"SIGLEC1","p":"CNS","v":-3.38},{"a":"SIGLEC1","p":"CNS","v":-3.3},{"a":"SIGLEC1","p":"CNS","v":-3.22},{"a":"SIGLEC1","p":"CNS","v":-3.05},{"a":"SIGLEC1","p":"CNS","v":-2.88},{"a":"SIGLEC1","p":"CNS","v":-3.98},{"a":"SIGLEC1","p":"CNS","v":-4.18},
{"a":"SIGLEC1","p":"DIS","v":-4.05},{"a":"SIGLEC1","p":"DIS","v":-3.6},{"a":"SIGLEC1","p":"DIS","v":-3.25},{"a":"SIGLEC1","p":"DIS","v":-2.9},{"a":"SIGLEC1","p":"DIS","v":-2.7},{"a":"SIGLEC1","p":"DIS","v":-2.45},{"a":"SIGLEC1","p":"DIS","v":-2.1},{"a":"SIGLEC1","p":"DIS","v":-1.61},
{"a":"SKAP1","p":"Control","v":3.13},{"a":"SKAP1","p":"Control","v":3.4},{"a":"SKAP1","p":"Control","v":3.7},{"a":"SKAP1","p":"Control","v":3.95},{"a":"SKAP1","p":"Control","v":4.1},{"a":"SKAP1","p":"Control","v":4.25},{"a":"SKAP1","p":"Control","v":4.38},{"a":"SKAP1","p":"Control","v":4.48},{"a":"SKAP1","p":"Control","v":4.58},{"a":"SKAP1","p":"Control","v":4.7},{"a":"SKAP1","p":"Control","v":4.85},{"a":"SKAP1","p":"Control","v":5.05},{"a":"SKAP1","p":"Control","v":5.3},{"a":"SKAP1","p":"Control","v":5.6},{"a":"SKAP1","p":"Control","v":5.89},
{"a":"SKAP1","p":"SEM","v":3.19},{"a":"SKAP1","p":"SEM","v":3.7},{"a":"SKAP1","p":"SEM","v":4.2},{"a":"SKAP1","p":"SEM","v":4.45},{"a":"SKAP1","p":"SEM","v":4.7},{"a":"SKAP1","p":"SEM","v":4.85},{"a":"SKAP1","p":"SEM","v":4.95},{"a":"SKAP1","p":"SEM","v":5.37},{"a":"SKAP1","p":"SEM","v":2.66},
{"a":"SKAP1","p":"CNS","v":3.93},{"a":"SKAP1","p":"CNS","v":4.2},{"a":"SKAP1","p":"CNS","v":4.45},{"a":"SKAP1","p":"CNS","v":4.7},{"a":"SKAP1","p":"CNS","v":4.8},{"a":"SKAP1","p":"CNS","v":4.95},{"a":"SKAP1","p":"CNS","v":5.25},
{"a":"SKAP1","p":"DIS","v":2.36},{"a":"SKAP1","p":"DIS","v":2.9},{"a":"SKAP1","p":"DIS","v":3.4},{"a":"SKAP1","p":"DIS","v":3.6},{"a":"SKAP1","p":"DIS","v":3.85},{"a":"SKAP1","p":"DIS","v":4.0},{"a":"SKAP1","p":"DIS","v":4.15},{"a":"SKAP1","p":"DIS","v":4.8},
{"a":"SUMF2","p":"Control","v":-0.13},{"a":"SUMF2","p":"Control","v":0.15},{"a":"SUMF2","p":"Control","v":0.35},{"a":"SUMF2","p":"Control","v":0.55},{"a":"SUMF2","p":"Control","v":0.65},{"a":"SUMF2","p":"Control","v":0.75},{"a":"SUMF2","p":"Control","v":0.85},{"a":"SUMF2","p":"Control","v":0.92},{"a":"SUMF2","p":"Control","v":1.0},{"a":"SUMF2","p":"Control","v":1.08},{"a":"SUMF2","p":"Control","v":1.25},{"a":"SUMF2","p":"Control","v":1.5},{"a":"SUMF2","p":"Control","v":1.81},
{"a":"SUMF2","p":"SEM","v":0.29},{"a":"SUMF2","p":"SEM","v":0.45},{"a":"SUMF2","p":"SEM","v":0.6},{"a":"SUMF2","p":"SEM","v":0.7},{"a":"SUMF2","p":"SEM","v":0.8},{"a":"SUMF2","p":"SEM","v":0.95},{"a":"SUMF2","p":"SEM","v":1.25},{"a":"SUMF2","p":"SEM","v":1.67},{"a":"SUMF2","p":"SEM","v":-0.33},
{"a":"SUMF2","p":"CNS","v":0.4},{"a":"SUMF2","p":"CNS","v":0.6},{"a":"SUMF2","p":"CNS","v":0.75},{"a":"SUMF2","p":"CNS","v":0.8},{"a":"SUMF2","p":"CNS","v":0.9},{"a":"SUMF2","p":"CNS","v":1.0},{"a":"SUMF2","p":"CNS","v":1.5},{"a":"SUMF2","p":"CNS","v":1.36},{"a":"SUMF2","p":"CNS","v":0.15},
{"a":"SUMF2","p":"DIS","v":-0.42},{"a":"SUMF2","p":"DIS","v":-0.1},{"a":"SUMF2","p":"DIS","v":0.1},{"a":"SUMF2","p":"DIS","v":0.35},{"a":"SUMF2","p":"DIS","v":0.5},{"a":"SUMF2","p":"DIS","v":0.65},{"a":"SUMF2","p":"DIS","v":0.88},
{"a":"TNFSF10","p":"Control","v":-3.26},{"a":"TNFSF10","p":"Control","v":-3.0},{"a":"TNFSF10","p":"Control","v":-2.8},{"a":"TNFSF10","p":"Control","v":-2.65},{"a":"TNFSF10","p":"Control","v":-2.55},{"a":"TNFSF10","p":"Control","v":-2.45},{"a":"TNFSF10","p":"Control","v":-2.38},{"a":"TNFSF10","p":"Control","v":-2.3},{"a":"TNFSF10","p":"Control","v":-2.2},{"a":"TNFSF10","p":"Control","v":-2.1},{"a":"TNFSF10","p":"Control","v":-1.95},{"a":"TNFSF10","p":"Control","v":-1.75},{"a":"TNFSF10","p":"Control","v":-1.5},{"a":"TNFSF10","p":"Control","v":-1.27},
{"a":"TNFSF10","p":"SEM","v":-3.11},{"a":"TNFSF10","p":"SEM","v":-2.7},{"a":"TNFSF10","p":"SEM","v":-2.45},{"a":"TNFSF10","p":"SEM","v":-2.3},{"a":"TNFSF10","p":"SEM","v":-2.1},{"a":"TNFSF10","p":"SEM","v":-1.9},{"a":"TNFSF10","p":"SEM","v":-1.67},{"a":"TNFSF10","p":"SEM","v":-0.38},{"a":"TNFSF10","p":"SEM","v":-0.73},{"a":"TNFSF10","p":"SEM","v":-3.38},
{"a":"TNFSF10","p":"CNS","v":-2.91},{"a":"TNFSF10","p":"CNS","v":-2.7},{"a":"TNFSF10","p":"CNS","v":-2.55},{"a":"TNFSF10","p":"CNS","v":-2.4},{"a":"TNFSF10","p":"CNS","v":-2.35},{"a":"TNFSF10","p":"CNS","v":-2.1},{"a":"TNFSF10","p":"CNS","v":-1.82},{"a":"TNFSF10","p":"CNS","v":-3.28},{"a":"TNFSF10","p":"CNS","v":-3.47},
{"a":"TNFSF10","p":"DIS","v":-3.01},{"a":"TNFSF10","p":"DIS","v":-2.5},{"a":"TNFSF10","p":"DIS","v":-2.2},{"a":"TNFSF10","p":"DIS","v":-1.5},{"a":"TNFSF10","p":"DIS","v":-1.2},{"a":"TNFSF10","p":"DIS","v":-0.95},{"a":"TNFSF10","p":"DIS","v":-0.4},{"a":"TNFSF10","p":"DIS","v":0.0},{"a":"TNFSF10","p":"DIS","v":0.46},
{"a":"TRIAP1","p":"Control","v":3.61},{"a":"TRIAP1","p":"Control","v":3.8},{"a":"TRIAP1","p":"Control","v":4.0},{"a":"TRIAP1","p":"Control","v":4.15},{"a":"TRIAP1","p":"Control","v":4.28},{"a":"TRIAP1","p":"Control","v":4.38},{"a":"TRIAP1","p":"Control","v":4.45},{"a":"TRIAP1","p":"Control","v":4.52},{"a":"TRIAP1","p":"Control","v":4.6},{"a":"TRIAP1","p":"Control","v":4.7},{"a":"TRIAP1","p":"Control","v":4.8},{"a":"TRIAP1","p":"Control","v":4.95},{"a":"TRIAP1","p":"Control","v":5.15},{"a":"TRIAP1","p":"Control","v":5.35},{"a":"TRIAP1","p":"Control","v":5.78},
{"a":"TRIAP1","p":"SEM","v":3.63},{"a":"TRIAP1","p":"SEM","v":3.9},{"a":"TRIAP1","p":"SEM","v":4.1},{"a":"TRIAP1","p":"SEM","v":4.3},{"a":"TRIAP1","p":"SEM","v":4.45},{"a":"TRIAP1","p":"SEM","v":4.5},{"a":"TRIAP1","p":"SEM","v":4.7},{"a":"TRIAP1","p":"SEM","v":5.28},{"a":"TRIAP1","p":"SEM","v":5.53},
{"a":"TRIAP1","p":"CNS","v":4.08},{"a":"TRIAP1","p":"CNS","v":4.3},{"a":"TRIAP1","p":"CNS","v":4.5},{"a":"TRIAP1","p":"CNS","v":4.55},{"a":"TRIAP1","p":"CNS","v":4.7},{"a":"TRIAP1","p":"CNS","v":4.85},{"a":"TRIAP1","p":"CNS","v":5.25},
{"a":"TRIAP1","p":"DIS","v":2.74},{"a":"TRIAP1","p":"DIS","v":3.2},{"a":"TRIAP1","p":"DIS","v":3.6},{"a":"TRIAP1","p":"DIS","v":3.85},{"a":"TRIAP1","p":"DIS","v":4.0},{"a":"TRIAP1","p":"DIS","v":4.3},{"a":"TRIAP1","p":"DIS","v":4.5},{"a":"TRIAP1","p":"DIS","v":4.66},
{"a":"TRIM24","p":"Control","v":2.51},{"a":"TRIM24","p":"Control","v":2.75},{"a":"TRIM24","p":"Control","v":3.0},{"a":"TRIM24","p":"Control","v":3.25},{"a":"TRIM24","p":"Control","v":3.45},{"a":"TRIM24","p":"Control","v":3.6},{"a":"TRIM24","p":"Control","v":3.72},{"a":"TRIM24","p":"Control","v":3.82},{"a":"TRIM24","p":"Control","v":3.92},{"a":"TRIM24","p":"Control","v":4.02},{"a":"TRIM24","p":"Control","v":4.15},{"a":"TRIM24","p":"Control","v":4.35},{"a":"TRIM24","p":"Control","v":4.55},{"a":"TRIM24","p":"Control","v":4.76},{"a":"TRIM24","p":"Control","v":5.75},
{"a":"TRIM24","p":"SEM","v":3.22},{"a":"TRIM24","p":"SEM","v":3.4},{"a":"TRIM24","p":"SEM","v":3.6},{"a":"TRIM24","p":"SEM","v":3.85},{"a":"TRIM24","p":"SEM","v":4.05},{"a":"TRIM24","p":"SEM","v":4.3},{"a":"TRIM24","p":"SEM","v":4.6},{"a":"TRIM24","p":"SEM","v":4.93},
{"a":"TRIM24","p":"CNS","v":3.51},{"a":"TRIM24","p":"CNS","v":3.7},{"a":"TRIM24","p":"CNS","v":3.9},{"a":"TRIM24","p":"CNS","v":4.05},{"a":"TRIM24","p":"CNS","v":4.3},{"a":"TRIM24","p":"CNS","v":4.5},{"a":"TRIM24","p":"CNS","v":4.85},
{"a":"TRIM24","p":"DIS","v":2.69},{"a":"TRIM24","p":"DIS","v":2.9},{"a":"TRIM24","p":"DIS","v":3.05},{"a":"TRIM24","p":"DIS","v":3.18},{"a":"TRIM24","p":"DIS","v":3.3},{"a":"TRIM24","p":"DIS","v":3.45},{"a":"TRIM24","p":"DIS","v":3.8},{"a":"TRIM24","p":"DIS","v":4.28},
{"a":"WDR46","p":"Control","v":2.19},{"a":"WDR46","p":"Control","v":2.45},{"a":"WDR46","p":"Control","v":2.75},{"a":"WDR46","p":"Control","v":3.05},{"a":"WDR46","p":"Control","v":3.3},{"a":"WDR46","p":"Control","v":3.5},{"a":"WDR46","p":"Control","v":3.7},{"a":"WDR46","p":"Control","v":3.85},{"a":"WDR46","p":"Control","v":3.95},{"a":"WDR46","p":"Control","v":4.1},{"a":"WDR46","p":"Control","v":4.3},{"a":"WDR46","p":"Control","v":4.5},{"a":"WDR46","p":"Control","v":4.75},{"a":"WDR46","p":"Control","v":5.05},{"a":"WDR46","p":"Control","v":5.41},{"a":"WDR46","p":"Control","v":5.93},
{"a":"WDR46","p":"SEM","v":1.99},{"a":"WDR46","p":"SEM","v":2.5},{"a":"WDR46","p":"SEM","v":3.0},{"a":"WDR46","p":"SEM","v":3.3},{"a":"WDR46","p":"SEM","v":3.7},{"a":"WDR46","p":"SEM","v":3.95},{"a":"WDR46","p":"SEM","v":4.2},{"a":"WDR46","p":"SEM","v":4.4},{"a":"WDR46","p":"SEM","v":4.8},{"a":"WDR46","p":"SEM","v":5.2},
{"a":"WDR46","p":"CNS","v":3.34},{"a":"WDR46","p":"CNS","v":3.6},{"a":"WDR46","p":"CNS","v":4.0},{"a":"WDR46","p":"CNS","v":4.4},{"a":"WDR46","p":"CNS","v":4.5},{"a":"WDR46","p":"CNS","v":4.7},{"a":"WDR46","p":"CNS","v":5.2},{"a":"WDR46","p":"CNS","v":5.89},
{"a":"WDR46","p":"DIS","v":1.77},{"a":"WDR46","p":"DIS","v":2.0},{"a":"WDR46","p":"DIS","v":2.3},{"a":"WDR46","p":"DIS","v":2.8},{"a":"WDR46","p":"DIS","v":3.1},{"a":"WDR46","p":"DIS","v":3.3},{"a":"WDR46","p":"DIS","v":3.8},{"a":"WDR46","p":"DIS","v":4.24}
]},
"encoding":{
"x":{"field":"a","type":"nominal","sort":["C7orf50","CCL2","CCL8","CTSO","CXCL10","GNLY","HNMT","IFIT1","IFIT3","IFNL1","IL18BP","IL6","KYNU","SIGLEC1","SKAP1","SUMF2","TNFSF10","TRIAP1","TRIM24","WDR46"],"scale":{"paddingInner":0,"paddingOuter":0.1},"axis":{"title":"Assay","labelAngle":-45,"labelAlign":"right","labelBaseline":"top","labelPadding":3,"bandPosition":0.5,"titlePadding":2}},
"xOffset":{"field":"p","type":"nominal","sort":["Control","SEM","CNS","DIS"],"scale":{"paddingInner":0,"paddingOuter":0.49}}
},
"layer":[
{"data":{"name":"pts"},"mark":{"type":"point","shape":"circle","filled":false,"size":4,"strokeWidth":2.3,"opacity":0.8},
"encoding":{"y":{"field":"v","type":"quantitative","scale":{"domain":[-5.55,6.48],"nice":false,"zero":false},"axis":{"title":"NPX","values":[-3,0,3,6],"labelPadding":4,"titlePadding":1}},
"stroke":{"field":"p","type":"nominal","sort":["Control","SEM","CNS","DIS"],"scale":{"domain":["Control","SEM","CNS","DIS"],"range":["#a2453b","#3c5f8e","#654a9e","#c19a4c"]},"legend":{"title":"Phenotype","orient":"none","legendX":719,"legendY":206,"symbolType":"square","symbolStrokeWidth":1,"rowPadding":0}}}},
{"data":{"name":"box"},"mark":{"type":"rule","strokeWidth":1,"opacity":0.7},
"encoding":{"y":{"field":"lo","type":"quantitative"},"y2":{"field":"hi"},
"stroke":{"field":"p","type":"nominal","sort":["Control","SEM","CNS","DIS"]}}},
{"data":{"name":"box"},"mark":{"type":"bar","width":8.7,"fillOpacity":0.7,"strokeWidth":0.9},
"encoding":{"y":{"field":"q1","type":"quantitative"},"y2":{"field":"q3"},
"fill":{"field":"p","type":"nominal","sort":["Control","SEM","CNS","DIS"],"scale":{"domain":["Control","SEM","CNS","DIS"],"range":["#e8836d","#78a9d3","#9a82d1","#cfa955"]},"legend":{"title":"Phenotype","orient":"none","legendX":719,"legendY":206,"symbolType":"square","symbolStrokeWidth":1,"rowPadding":0}},
"stroke":{"field":"p","type":"nominal","sort":["Control","SEM","CNS","DIS"]}}},
{"data":{"name":"box"},"mark":{"type":"tick","size":8.7,"thickness":0.3,"filled":false,"strokeWidth":1.8},
"encoding":{"y":{"field":"md","type":"quantitative"},
"stroke":{"field":"p","type":"nominal","sort":["Control","SEM","CNS","DIS"]}}}
]
}
